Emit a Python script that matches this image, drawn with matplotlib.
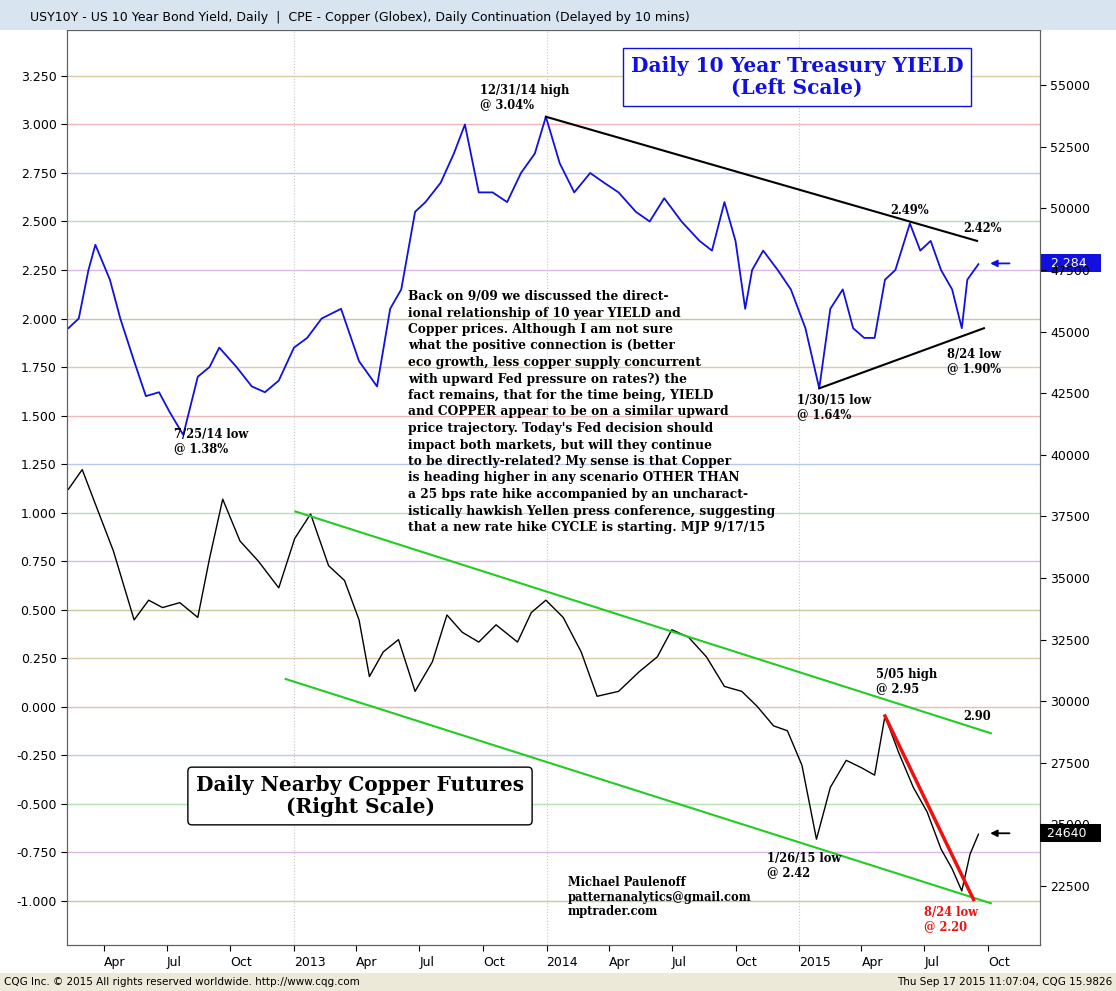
import matplotlib
matplotlib.use("Agg")
import matplotlib.pyplot as plt
import matplotlib.dates as mdates
import pandas as pd

W, H = 1116, 991

# 10 year yield, left scale (%)
yield_dates = ["2012-02-10", "2012-02-25", "2012-03-10", "2012-03-20", "2012-04-10", "2012-04-25", "2012-05-15",
               "2012-06-01", "2012-06-20", "2012-07-05", "2012-07-25", "2012-08-15", "2012-09-01",
               "2012-09-15", "2012-10-10", "2012-11-01", "2012-11-20", "2012-12-10", "2013-01-01",
               "2013-01-20", "2013-02-10", "2013-03-10", "2013-04-05", "2013-05-01", "2013-05-20",
               "2013-06-05", "2013-06-25", "2013-07-10", "2013-08-01", "2013-08-20", "2013-09-05",
               "2013-09-25", "2013-10-15", "2013-11-05", "2013-11-25", "2013-12-15", "2013-12-31",
               "2014-01-20", "2014-02-10", "2014-03-05", "2014-03-25", "2014-04-15", "2014-05-10",
               "2014-05-30", "2014-06-20", "2014-07-15", "2014-08-10", "2014-08-28", "2014-09-15",
               "2014-10-01", "2014-10-15", "2014-10-25", "2014-11-10", "2014-12-01", "2014-12-20",
               "2015-01-10", "2015-01-30", "2015-02-15", "2015-03-05", "2015-03-20", "2015-04-05",
               "2015-04-20", "2015-05-05", "2015-05-20", "2015-06-10", "2015-06-25", "2015-07-10",
               "2015-07-25", "2015-08-10", "2015-08-24", "2015-09-01", "2015-09-17"]
yield_vals = [1.95, 2.00, 2.25, 2.38, 2.20, 2.00, 1.78, 1.60, 1.62, 1.52, 1.40, 1.70, 1.75,
              1.85, 1.75, 1.65, 1.62, 1.68, 1.85, 1.90, 2.00, 2.05, 1.78, 1.65, 2.05,
              2.15, 2.55, 2.60, 2.70, 2.85, 3.00, 2.65, 2.65, 2.60, 2.75, 2.85, 3.04,
              2.80, 2.65, 2.75, 2.70, 2.65, 2.55, 2.50, 2.62, 2.50, 2.40, 2.35, 2.60,
              2.40, 2.05, 2.25, 2.35, 2.25, 2.15, 1.95, 1.64, 2.05, 2.15, 1.95, 1.90,
              1.90, 2.20, 2.25, 2.49, 2.35, 2.40, 2.25, 2.15, 1.95, 2.20, 2.28]

# copper, right scale
copper_dates = ["2012-02-10", "2012-03-01", "2012-03-20", "2012-04-15", "2012-05-15", "2012-06-05",
                "2012-06-25", "2012-07-20", "2012-08-15", "2012-09-01", "2012-09-20", "2012-10-15",
                "2012-11-10", "2012-12-10", "2013-01-02", "2013-01-25", "2013-02-20", "2013-03-15",
                "2013-04-05", "2013-04-20", "2013-05-10", "2013-06-01", "2013-06-25", "2013-07-20",
                "2013-08-10", "2013-09-01", "2013-09-25", "2013-10-20", "2013-11-20", "2013-12-10",
                "2013-12-31", "2014-01-25", "2014-02-20", "2014-03-15", "2014-04-15", "2014-05-15",
                "2014-06-10", "2014-07-01", "2014-07-25", "2014-08-20", "2014-09-15", "2014-10-10",
                "2014-11-01", "2014-11-25", "2014-12-15", "2015-01-05", "2015-01-26", "2015-02-15",
                "2015-03-10", "2015-04-01", "2015-04-20", "2015-05-05", "2015-05-25", "2015-06-15",
                "2015-07-05", "2015-07-25", "2015-08-10", "2015-08-24", "2015-09-05", "2015-09-17"]
copper_vals = [38600, 39400, 38000, 36100, 33300, 34100, 33800, 34000, 33400, 35800, 38200, 36500,
               35700, 34600, 36600, 37600, 35500, 34900, 33300, 31000, 32000, 32500, 30400, 31600,
               33500, 32800, 32400, 33100, 32400, 33600, 34100, 33400, 32000, 30200, 30400, 31200,
               31800, 32900, 32600, 31800, 30600, 30400, 29800, 29000, 28800, 27400, 24400, 26500,
               27600, 27300, 27000, 29400, 27900, 26500, 25500, 24000, 23200, 22300, 23800, 24600]

# trend lines (date, value)
yield_top = (["2013-12-31", "2015-09-15"], [3.04, 2.40])
yield_bottom = (["2015-01-30", "2015-09-25"], [1.64, 1.95])
channel_top = (["2013-01-03", "2015-10-05"], [37700, 28700])
channel_bottom = (["2012-12-20", "2015-10-05"], [30900, 21800])
red_line = (["2015-05-05", "2015-09-10"], [29400, 21950])

left_ticks = [3.25, 3.0, 2.75, 2.5, 2.25, 2.0, 1.75, 1.5, 1.25, 1.0, 0.75, 0.5, 0.25, 0.0,
              -0.25, -0.5, -0.75, -1.0]
right_ticks = [55000, 52500, 50000, 47500, 45000, 42500, 40000, 37500, 35000, 32500, 30000,
               27500, 25000, 22500]
month_ticks = ["2012-04-01", "2012-07-01", "2012-10-01", "2013-01-01", "2013-04-01", "2013-07-01",
               "2013-10-01", "2014-01-01", "2014-04-01", "2014-07-01", "2014-10-01", "2015-01-01",
               "2015-04-01", "2015-07-01", "2015-10-01"]
month_labels = ["Apr", "Jul", "Oct", "2013", "Apr", "Jul", "Oct", "2014", "Apr", "Jul", "Oct",
                "2015", "Apr", "Jul", "Oct"]
grid_colors = ["#e0c8a8", "#f0b8b8", "#b8c8f0", "#b8e0b8", "#d8b8e8", "#c8c8a0"]


def px(x, y):
    return x / W, 1 - y / H


def d(s):
    return mdates.date2num(pd.to_datetime(s))


fig = plt.figure(figsize=(W / 100, H / 100), dpi=100)
fig.patch.set_facecolor("white")
ax = fig.add_axes([67 / W, 1 - 945 / H, (1040 - 67) / W, (945 - 30) / H])
ax2 = ax.twinx()

ax.set_xlim(d("2012-02-08"), d("2015-12-15"))
ax.set_ylim(-1.229, 3.487)
ax2.set_ylim(20106, 57240)

for i, t in enumerate(left_ticks):
    ax.axhline(t, color=grid_colors[i % len(grid_colors)], lw=1, zorder=0)
for s in ["2013-01-01", "2014-01-01", "2015-01-01"]:
    ax.axvline(d(s), color="#c8c8c8", lw=0.8, ls=":", zorder=0)

ax.plot([d(s) for s in yield_dates], yield_vals, color="#1010e0", lw=1.3)
ax2.plot([d(s) for s in copper_dates], copper_vals, color="black", lw=1.0)

ax.plot([d(s) for s in yield_top[0]], yield_top[1], color="black", lw=1.5)
ax.plot([d(s) for s in yield_bottom[0]], yield_bottom[1], color="black", lw=1.5)
ax2.plot([d(s) for s in channel_top[0]], channel_top[1], color="#22cc22", lw=1.5)
ax2.plot([d(s) for s in channel_bottom[0]], channel_bottom[1], color="#22cc22", lw=1.5)
ax2.plot([d(s) for s in red_line[0]], red_line[1], color="#ee1111", lw=2.5)

ax.set_yticks(left_ticks)
ax.set_yticklabels([f"{t:.3f}" for t in left_ticks], fontsize=9)
ax2.set_yticks(right_ticks)
ax2.set_yticklabels([str(t) for t in right_ticks], fontsize=9)
ax.set_xticks([d(s) for s in month_ticks])
ax.set_xticklabels(month_labels, fontsize=9, ha="left")
ax.tick_params(axis="x", length=4, pad=4)
ax.tick_params(axis="y", length=4)
ax2.tick_params(axis="y", length=4)
for a in (ax, ax2):
    for sp in a.spines.values():
        sp.set_color("#606060")

# current value markers
ax.annotate("", xy=(d("2015-09-30"), 2.284), xytext=(d("2015-11-05"), 2.284),
            arrowprops=dict(arrowstyle="-|>", color="#1010e0", lw=1.3))
ax2.annotate("", xy=(d("2015-09-30"), 24640), xytext=(d("2015-11-05"), 24640),
             arrowprops=dict(arrowstyle="-|>", color="black", lw=1.3))
ax.text(1.003, ax.transAxes.inverted().transform(ax.transData.transform((0, 2.284)))[1], "  2.284   ",
        transform=ax.transAxes, fontsize=9, color="white", va="center", zorder=10,
        bbox=dict(boxstyle="square,pad=0.2", fc="#1010e0", ec="none"))
ax2.text(1.003, ax2.transAxes.inverted().transform(ax2.transData.transform((0, 24640)))[1], " 24640   ",
         transform=ax2.transAxes, fontsize=9, color="white", va="center", zorder=10,
         bbox=dict(boxstyle="square,pad=0.2", fc="black", ec="none"))

serif = "DejaVu Serif"
fig.text(*px(797, 77), "Daily 10 Year Treasury YIELD\n(Left Scale)", ha="center", va="center",
         fontsize=14.5, fontweight="bold", color="#1010e0", family=serif, linespacing=1.1,
         bbox=dict(boxstyle="square,pad=0.4", fc="white", ec="#1010e0"))
fig.text(*px(360, 796), "Daily Nearby Copper Futures\n(Right Scale)", ha="center", va="center",
         fontsize=14.5, fontweight="bold", color="black", family=serif, linespacing=1.1,
         bbox=dict(boxstyle="round,pad=0.4,rounding_size=0.2", fc="white", ec="black"))

para = ("Back on 9/09 we discussed the direct-\nional relationship of 10 year YIELD and\n"
        "Copper prices. Although I am not sure\nwhat the positive connection is (better\n"
        "eco growth, less copper supply concurrent\nwith upward Fed pressure on rates?) the\n"
        "fact remains, that for the time being, YIELD\nand COPPER appear to be on a similar upward\n"
        "price trajectory. Today's Fed decision should\nimpact both markets, but will they continue\n"
        "to be directly-related? My sense is that Copper\nis heading higher in any scenario OTHER THAN\n"
        "a 25 bps rate hike accompanied by an uncharact-\nistically hawkish Yellen press conference, suggesting\n"
        "that a new rate hike CYCLE is starting. MJP 9/17/15")
fig.text(*px(408, 290), para, ha="left", va="top", fontsize=8.8, family=serif,
         fontweight="semibold", linespacing=1.35)

notes = [(480, 84, "12/31/14 high\n@ 3.04%", "black"), (890, 204, "2.49%", "black"),
         (963, 222, "2.42%", "black"), (947, 348, "8/24 low\n@ 1.90%", "black"),
         (797, 394, "1/30/15 low\n@ 1.64%", "black"), (174, 428, "7/25/14 low\n@ 1.38%", "black"),
         (876, 668, "5/05 high\n@ 2.95", "black"), (963, 710, "2.90", "black"),
         (767, 852, "1/26/15 low\n@ 2.42", "black"), (924, 906, "8/24 low\n@ 2.20", "#ee1111"),
         (568, 876, "Michael Paulenoff\npatternanalytics@gmail.com\nmptrader.com", "black")]
for x, y, s, c in notes:
    fig.text(*px(x, y), s, ha="left", va="top", fontsize=8.3, family=serif, color=c,
             fontweight="semibold", linespacing=1.15)

# window chrome
fig.patches.append(plt.Rectangle((0, 1 - 30 / H), 1, 30 / H, transform=fig.transFigure,
                                 fc="#d8e4f0", ec="none"))
fig.text(*px(30, 18), "USY10Y - US 10 Year Bond Yield, Daily  |  CPE - Copper (Globex), Daily Continuation (Delayed by 10 mins)",
         fontsize=9, va="center")
fig.patches.append(plt.Rectangle((0, 0), 1, 18 / H, transform=fig.transFigure, fc="#ece9d8", ec="none"))
fig.text(*px(4, 982), "CQG Inc. © 2015 All rights reserved worldwide. http://www.cqg.com", fontsize=7.5, va="center")
fig.text(*px(1112, 982), "Thu Sep 17 2015 11:07:04, CQG 15.9826", fontsize=7.5, va="center", ha="right")

fig.savefig("out.png", dpi=100)
